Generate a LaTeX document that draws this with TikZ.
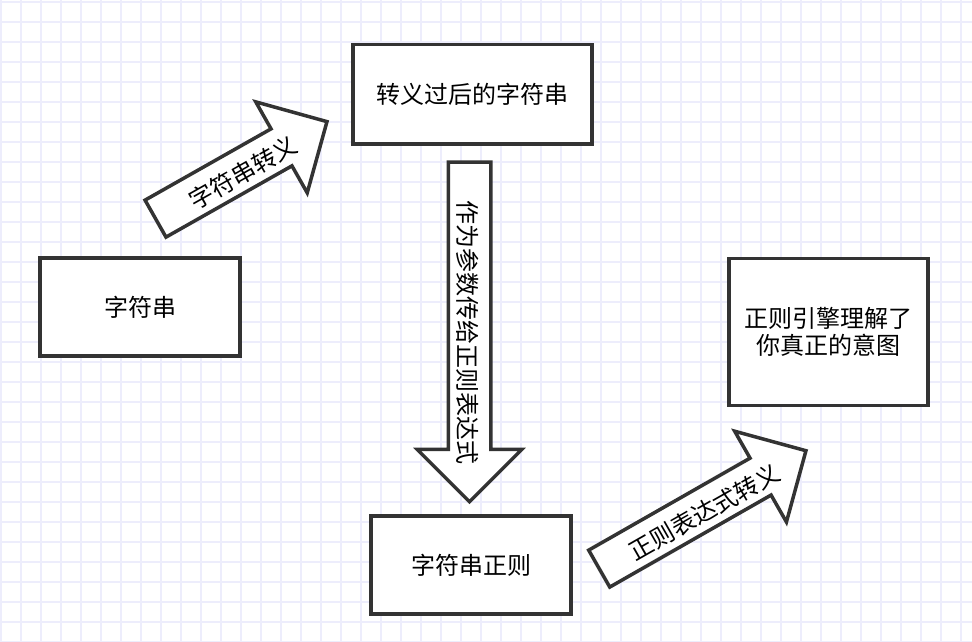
\documentclass[tikz,border=0pt]{standalone}
\usepackage{fontspec}
\setmainfont{Noto Sans CJK SC}
\usepackage{tikz}
\usetikzlibrary{shapes.arrows, calc}

\definecolor{gridline}{RGB}{237,237,252}
\definecolor{edge}{RGB}{51,51,51}

\begin{document}
\begin{tikzpicture}[x=1pt, y=1pt,
    box/.style={rectangle, draw=edge, line width=3.5pt, fill=white,
                inner sep=0pt, align=center, font=\fontsize{24}{27}\selectfont},
    bigarrow/.style={single arrow, draw=edge, line width=3.5pt, fill=white,
                single arrow tip angle=90, single arrow head extend=31pt,
                inner xsep=0pt, inner ysep=0pt, text height=39pt, text depth=0pt,
                anchor=tail},
    arrowtext/.style={inner sep=0pt, font=\fontsize{24}{27}\selectfont}
]
    \useasboundingbox (0,0) rectangle (972,642);
    \fill[white] (0,0) rectangle (972,642);
    \foreach \gx in {1,21,...,961} \draw[gridline, line width=1.5pt] (\gx,0) -- (\gx,642);
    \foreach \gy in {0,20,...,640} \draw[gridline, line width=1.5pt] (0,\gy) -- (972,\gy);

    \node[box, minimum width=200pt, minimum height=98pt] (str) at (140,335) {字符串};
    \node[box, minimum width=239pt, minimum height=99.5pt] (escaped) at (472.5,547.75)
        {转义过后的字符串};
    \node[box, minimum width=199pt, minimum height=147pt] (engine) at (828.5,310)
        {正则引擎理解了\\你真正的意图};
    \node[box, minimum width=200pt, minimum height=98pt] (regex) at (471,77) {字符串正则};

    \node[bigarrow, rotate=29.5, minimum height=197pt] (escape) at (154,422.5) {};
    \node[bigarrow, rotate=-90, minimum height=339.5pt] (pass) at (469.5,481.5) {};
    \node[bigarrow, rotate=29.7, minimum height=238pt] (regexesc) at (597.7,72.5) {};

    \node[arrowtext, rotate=29.5] (escape-text)
        at ($(escape.tail)!0.5!(escape.tip)+(1.5,-2.6)$) {字符串转义};
    \node[arrowtext, rotate=-90] (pass-text)
        at ($(pass.tail)!0.5!(pass.tip)+(-1.5,0)$) {作为参数传给正则表达式};
    \node[arrowtext, rotate=29.7] (regexesc-text)
        at ($(regexesc.tail)!0.5!(regexesc.tip)+(1.5,-2.6)$) {正则表达式转义};
\end{tikzpicture}
\end{document}
